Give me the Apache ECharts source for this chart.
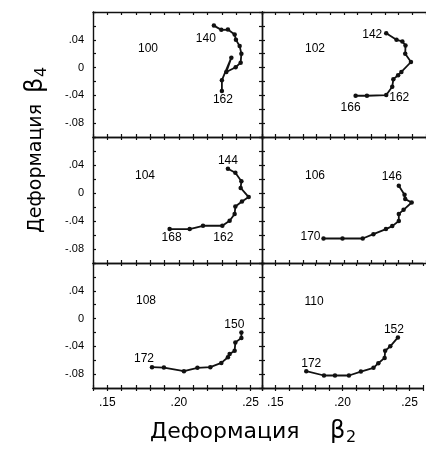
<!DOCTYPE html>
<html>
<head>
<meta charset="utf-8">
<script src="https://cdn.jsdelivr.net/npm/echarts@6/dist/echarts.min.js"></script>
<style>
  html, body { margin: 0; padding: 0; background: #fff; }
  #chart { width: 426px; height: 454px; }
</style>
</head>
<body>
<div id="chart"></div>
<script>
// Mass number shown in each panel
const panelNames = ['100', '102', '104', '106', '108', '110'];

// Equilibrium deformations (beta2, beta4) along each isotope chain
const beta2_100 = [0.2244, 0.2296, 0.2342, 0.2389, 0.2398, 0.2424, 0.2436, 0.2431, 0.2396, 0.2331, 0.2366, 0.2300, 0.2300];
const beta4_100 = [0.0604, 0.0543, 0.0547, 0.0476, 0.0400, 0.0309, 0.0200, 0.0071, 0.0004, -0.0063, 0.0143, -0.0181, -0.0339];
const tags_100 = [[0, '140'], [12, '162']];

const beta2_102 = [0.2309, 0.2384, 0.2427, 0.2450, 0.2448, 0.2490, 0.2420, 0.2396, 0.2361, 0.2353, 0.2309, 0.2168, 0.2085];
const beta4_102 = [0.0494, 0.0400, 0.0376, 0.0319, 0.0200, 0.0080, -0.0063, -0.0110, -0.0167, -0.0277, -0.0396, -0.0406, -0.0406];
const tags_102 = [[0, '142'], [10, '162'], [12, '166']];

const beta2_104 = [0.2342, 0.2394, 0.2436, 0.2431, 0.2487, 0.2440, 0.2394, 0.2389, 0.2354, 0.2303, 0.2168, 0.2075, 0.1935];
const beta4_104 = [0.0347, 0.0289, 0.0168, 0.0072, -0.0058, -0.0121, -0.0194, -0.0299, -0.0396, -0.0468, -0.0468, -0.0516, -0.0516];
const tags_104 = [[0, '144'], [9, '162'], [12, '168']];

const beta2_106 = [0.2401, 0.2443, 0.2448, 0.2495, 0.2436, 0.2401, 0.2401, 0.2353, 0.2307, 0.2215, 0.2137, 0.1989, 0.1850];
const beta4_106 = [0.0105, -0.0025, -0.0087, -0.0136, -0.0241, -0.0299, -0.0400, -0.0473, -0.0516, -0.0588, -0.0650, -0.0650, -0.0650];
const tags_106 = [[0, '146'], [12, '170']];

const beta2_108 = [0.2436, 0.2436, 0.2394, 0.2389, 0.2354, 0.2342, 0.2296, 0.2219, 0.2129, 0.2035, 0.1895, 0.1812];
const beta4_108 = [-0.0200, -0.0281, -0.0343, -0.0463, -0.0510, -0.0557, -0.0639, -0.0700, -0.0710, -0.0757, -0.0706, -0.0700];
const tags_108 = [[0, '150'], [11, '172']];

const beta2_110 = [0.2413, 0.2356, 0.2318, 0.2314, 0.2267, 0.2231, 0.2137, 0.2048, 0.1944, 0.1862, 0.1730];
const beta4_110 = [-0.0271, -0.0400, -0.0463, -0.0567, -0.0643, -0.0710, -0.0763, -0.0820, -0.0820, -0.0820, -0.0757];
const tags_110 = [[0, '152'], [10, '172']];

// Tick labels
const xTickValues = [0.15, 0.20, 0.25];
const xTickText = ['.15', '.20', '.25'];
const yTickValues = [0.04, 0, -0.04, -0.08];
const yTickText = ['.04', '0', '-.04', '-.08'];

const panels = [
  { b2: beta2_100, b4: beta4_100, tags: tags_100 },
  { b2: beta2_102, b4: beta4_102, tags: tags_102 },
  { b2: beta2_104, b4: beta4_104, tags: tags_104 },
  { b2: beta2_106, b4: beta4_106, tags: tags_106 },
  { b2: beta2_108, b4: beta4_108, tags: tags_108 },
  { b2: beta2_110, b4: beta4_110, tags: tags_110 }
];

// ---- layout & styling ----
const tagOffsets = [
  [[-8, 13], [1, 9]],
  [[-14, 1], [13, 3], [-5, 12]],
  [[0, -8], [1, 12], [2, 9]],
  [[-7, -9], [-13, -2]],
  [[-7, -8], [-8, -8]],
  [[-4, -8], [5, -7]]
];
const nameSpots = [[148, 49], [315, 49], [145, 176], [315, 176], [146, 301], [314, 302]];

const cols = [{ left: 93, width: 169, max: 0.258 }, { left: 262, width: 170, max: 0.26 }];
const rows = [{ top: 12, height: 125 }, { top: 137, height: 126 }, { top: 263, height: 125 }];

const INK = '#111';
const numFont = 'Liberation Sans';
const lineAxis = { show: true, onZero: false, lineStyle: { color: INK, width: 1.4 } };
const tickStyle = { color: INK, width: 1.2 };

function pick(values, texts, v) {
  const k = values.findIndex(t => Math.abs(t - v) < 1e-6);
  return k >= 0 ? texts[k] : '';
}

const grid = [], xAxis = [], yAxis = [], series = [], graphic = [];

panels.forEach((p, i) => {
  const r = Math.floor(i / 2), c = i % 2;
  const col = cols[c], row = rows[r];
  grid.push({ left: col.left, top: row.top, width: col.width, height: row.height, containLabel: false });

  const xBase = { gridIndex: i, type: 'value', min: 0.14, max: col.max, interval: 0.01,
    axisLine: lineAxis, splitLine: { show: false } };
  const yBase = { gridIndex: i, type: 'value', min: -0.10, max: 0.08, interval: 0.02,
    axisLine: lineAxis, splitLine: { show: false } };

  // main bottom axis (series attach here)
  const xMain = xAxis.length;
  xAxis.push(Object.assign({}, xBase, {
    position: 'bottom',
    axisTick: { show: true, inside: r < 2, length: 3, lineStyle: tickStyle },
    axisLabel: {
      show: r === 2, margin: 9, color: '#000', fontFamily: numFont, fontSize: 12,
      formatter: v => pick(xTickValues, xTickText, Math.round(v * 100) / 100)
    }
  }));
  // top edge with inward ticks
  xAxis.push(Object.assign({}, xBase, {
    position: 'top',
    axisTick: { show: true, inside: true, length: 3, lineStyle: tickStyle },
    axisLabel: { show: false }
  }));
  // bottom row: inward half of the crossing ticks
  if (r === 2) {
    xAxis.push(Object.assign({}, xBase, {
      position: 'bottom',
      axisTick: { show: true, inside: true, length: 3, lineStyle: tickStyle },
      axisLabel: { show: false }
    }));
  }

  const yMain = yAxis.length;
  yAxis.push(Object.assign({}, yBase, {
    position: 'left',
    axisTick: { show: true, inside: true, length: 3, lineStyle: tickStyle },
    axisLabel: {
      show: c === 0, margin: 9, color: '#000', fontFamily: numFont, fontSize: 11,
      formatter: v => pick(yTickValues, yTickText, Math.round(v * 100) / 100)
    }
  }));
  if (c === 0) {
    yAxis.push(Object.assign({}, yBase, {
      position: 'right',
      axisTick: { show: true, inside: true, length: 3, lineStyle: tickStyle },
      axisLabel: { show: false }
    }));
  }

  const data = p.b2.map((x, k) => ({ value: [x, p.b4[k]] }));
  p.tags.forEach(([idx, text], j) => {
    data[idx].label = {
      show: true, formatter: text, position: 'inside', offset: tagOffsets[i][j],
      color: '#000', fontFamily: numFont, fontSize: 12
    };
  });

  series.push({
    type: 'line', xAxisIndex: xMain, yAxisIndex: yMain, data: data,
    symbol: 'circle', symbolSize: 4.5, showSymbol: true,
    lineStyle: { color: INK, width: 1.8 }, itemStyle: { color: INK },
    label: { show: false }, silent: true, animation: false, clip: false
  });

  graphic.push({
    type: 'text', x: nameSpots[i][0], y: nameSpots[i][1],
    style: { text: panelNames[i], fill: '#000', font: '12px "' + numFont + '"', align: 'center', verticalAlign: 'middle' }
  });
});

// axis titles
graphic.push({
  type: 'group', x: 150, y: 432,
  children: [
    { type: 'text', x: 0, y: 0, style: { text: 'Деформация', fill: '#000', font: '22px "DejaVu Sans"', align: 'left', verticalAlign: 'middle' } },
    { type: 'text', x: 180, y: 0, style: { text: 'β', fill: '#000', font: '24px "DejaVu Sans"', align: 'left', verticalAlign: 'middle' } },
    { type: 'text', x: 196, y: 6, style: { text: '2', fill: '#000', font: '16px "DejaVu Sans"', align: 'left', verticalAlign: 'middle' } }
  ]
});
graphic.push({
  type: 'group', x: 36, y: 233, rotation: Math.PI / 2,
  children: [
    { type: 'text', x: 0, y: 0, style: { text: 'Деформация', fill: '#000', font: '19px "DejaVu Sans"', align: 'left', verticalAlign: 'middle' } },
    { type: 'text', x: 140, y: 0, style: { text: 'β', fill: '#000', font: '24px "DejaVu Sans"', align: 'left', verticalAlign: 'middle' } },
    { type: 'text', x: 156, y: 6, style: { text: '4', fill: '#000', font: '16px "DejaVu Sans"', align: 'left', verticalAlign: 'middle' } }
  ]
});

const chart = echarts.init(document.getElementById('chart'), null, { renderer: 'canvas' });
chart.setOption({
  backgroundColor: '#fff',
  animation: false,
  grid, xAxis, yAxis, series, graphic
});
</script>
</body>
</html>
